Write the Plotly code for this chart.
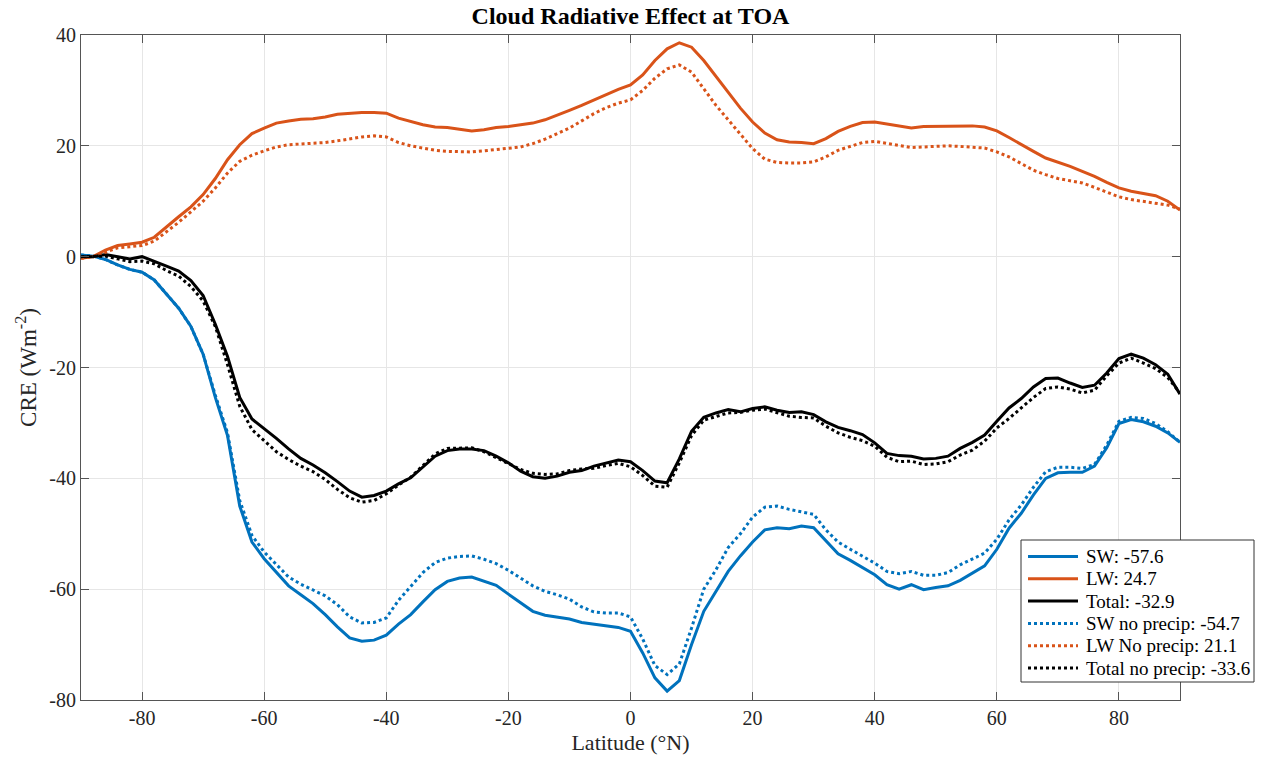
import plotly.graph_objects as go

lat = list(range(-90, 91, 2))

sw = [0.3, 0.1, -0.5, -1.5, -2.3, -2.8, -4.2, -6.8, -9.3, -12.6, -17.6, -25.4, -32.3, -45.0, -51.5,
      -54.5, -57.0, -59.4, -61.0, -62.6, -64.6, -66.8, -68.8, -69.4, -69.2, -68.3, -66.3, -64.6, -62.3,
      -60.1, -58.6, -58.0, -57.8, -58.5, -59.3, -60.9, -62.5, -64.0, -64.7, -65.0, -65.4, -66.0, -66.3,
      -66.6, -66.9, -67.6, -71.5, -76.0, -78.4, -76.5, -70.0, -64.0, -60.5, -56.8, -54.0, -51.5, -49.3,
      -48.9, -49.1, -48.6, -48.9, -51.3, -53.6, -54.8, -56.1, -57.4, -59.2, -60.0, -59.2, -60.1, -59.7,
      -59.4, -58.4, -57.1, -55.8, -52.8, -49.0, -46.3, -43.0, -40.0, -39.0, -38.9, -38.9, -37.8, -34.5,
      -30.1, -29.4, -29.8, -30.6, -31.8, -33.5]

lw = [-0.3, 0.0, 1.2, 2.0, 2.3, 2.6, 3.5, 5.4, 7.2, 9.0, 11.2, 14.1, 17.5, 20.2, 22.2, 23.2, 24.1,
      24.5, 24.8, 24.9, 25.2, 25.7, 25.9, 26.0, 26.0, 25.9, 25.0, 24.4, 23.8, 23.4, 23.3, 23.0, 22.7,
      22.9, 23.3, 23.5, 23.8, 24.1, 24.7, 25.5, 26.4, 27.3, 28.3, 29.3, 30.2, 31.0, 32.8, 35.4, 37.5,
      38.6, 37.8, 35.4, 32.5, 29.7, 26.8, 24.3, 22.3, 21.1, 20.7, 20.6, 20.4, 21.3, 22.6, 23.5, 24.2,
      24.3, 23.9, 23.5, 23.2, 23.5, 23.5, 23.6, 23.6, 23.6, 23.4, 22.7, 21.5, 20.2, 19.0, 17.8, 17.1,
      16.3, 15.4, 14.5, 13.4, 12.4, 11.8, 11.4, 11.0, 10.0, 8.4]

total = [0.0, 0.0, 0.4, 0.0, -0.4, 0.0, -0.8, -1.7, -2.6, -4.3, -7.0, -12.2, -18.0, -25.4, -29.3,
         -31.0, -32.8, -34.7, -36.4, -37.6, -39.0, -40.6, -42.3, -43.4, -43.1, -42.3, -41.0, -39.9,
         -38.0, -36.0, -35.0, -34.7, -34.7, -35.0, -36.0, -37.2, -38.7, -39.7, -40.0, -39.6, -38.9,
         -38.6, -37.8, -37.2, -36.7, -37.0, -38.6, -40.5, -40.8, -36.5, -31.5, -29.0, -28.2, -27.6,
         -28.0, -27.4, -27.1, -27.7, -28.1, -28.0, -28.5, -29.8, -30.8, -31.4, -32.1, -33.6, -35.5,
         -35.9, -36.0, -36.5, -36.4, -36.0, -34.6, -33.5, -32.2, -29.7, -27.3, -25.6, -23.5, -22.0,
         -21.9, -22.8, -23.6, -23.2, -21.0, -18.4, -17.6, -18.3, -19.5, -21.2, -24.8]

sw_np = [0.3, 0.1, -0.5, -1.5, -2.3, -2.8, -4.2, -6.8, -9.3, -12.6, -17.6, -25.0, -31.8, -44.0, -50.3,
         -53.3, -55.5, -57.8, -59.1, -60.2, -61.2, -62.8, -65.0, -66.1, -66.0, -65.2, -62.0, -59.5,
         -57.0, -55.2, -54.4, -54.1, -54.0, -54.6, -55.4, -56.6, -58.0, -59.4, -60.4, -61.0, -61.8,
         -63.2, -64.1, -64.3, -64.3, -65.0, -69.0, -73.8, -75.4, -73.5, -67.0, -60.0, -56.5, -52.5,
         -50.0, -47.0, -45.2, -45.0, -45.6, -46.0, -46.5, -49.3, -51.5, -52.8, -54.0, -55.3, -56.8,
         -57.2, -56.8, -57.5, -57.5, -57.0, -55.6, -54.5, -53.5, -51.0, -47.5, -44.8, -41.6, -38.8,
         -38.0, -38.0, -38.2, -37.5, -34.0, -29.7, -29.0, -29.2, -30.1, -31.6, -33.5]

lw_np = [-0.3, 0.0, 0.8, 1.6, 1.8, 2.0, 2.8, 4.5, 6.2, 8.1, 10.0, 12.4, 15.1, 17.2, 18.3, 19.1, 19.8,
         20.2, 20.3, 20.4, 20.6, 20.9, 21.3, 21.6, 21.8, 21.6, 20.6, 20.0, 19.6, 19.2, 19.0, 19.0, 18.9,
         19.1, 19.3, 19.5, 19.8, 20.4, 21.2, 22.2, 23.2, 24.5, 25.8, 26.9, 27.7, 28.3, 30.0, 32.2, 33.9,
         34.6, 33.3, 30.3, 27.3, 24.7, 22.2, 19.5, 17.6, 17.0, 16.9, 16.9, 17.1, 18.0, 19.2, 19.9, 20.6,
         20.8, 20.4, 20.0, 19.7, 19.8, 19.9, 20.0, 19.9, 19.8, 19.6, 18.9, 18.0, 16.8, 15.6, 14.8, 14.1,
         13.7, 13.3, 12.5, 11.7, 10.8, 10.3, 10.0, 9.6, 9.3, 8.6]

total_np = [0.0, 0.0, 0.1, -0.4, -0.9, -0.8, -1.3, -2.5, -3.5, -5.4, -8.0, -12.6, -19.5, -27.0, -31.2,
            -33.2, -35.2, -36.6, -37.8, -38.8, -40.2, -42.0, -43.5, -44.3, -44.0, -42.8, -41.2, -39.8,
            -37.7, -35.6, -34.6, -34.5, -34.5, -35.2, -36.3, -37.4, -38.4, -39.1, -39.3, -39.2, -38.6,
            -38.3, -38.2, -37.7, -37.3, -37.9, -39.5, -41.4, -41.6, -37.2, -32.3, -29.5, -28.9, -28.2,
            -28.1, -27.7, -27.5, -28.2, -28.8, -29.0, -29.1, -30.6, -31.8, -32.6, -33.2, -34.2, -36.2,
            -37.0, -36.9, -37.5, -37.4, -37.0, -35.8, -34.9, -33.3, -30.9, -29.2, -27.3, -25.4, -23.8,
            -23.5, -23.9, -24.6, -24.1, -21.5, -19.2, -18.3, -19.2, -20.2, -21.8, -24.6]

names = ["SW: -57.6", "LW: 24.7", "Total: -32.9",
         "SW no precip: -54.7", "LW No precip: 21.1", "Total no precip: -33.6"]
values = [sw, lw, total, sw_np, lw_np, total_np]
colors = ["#0072BD", "#D95319", "#000000", "#0072BD", "#D95319", "#000000"]
dashes = ["solid", "solid", "solid", "dot", "dot", "dot"]

xticks = [-80, -60, -40, -20, 0, 20, 40, 60, 80]
yticks = [-80, -60, -40, -20, 0, 20, 40]

font_family = "Liberation Serif, Times New Roman, serif"

fig = go.Figure()
for name, vals, color, dash in zip(names, values, colors, dashes):
    fig.add_trace(go.Scatter(x=lat, y=vals, mode="lines", name=name, showlegend=False,
                             line=dict(color=color, width=3,
                                       dash="3px,3px" if dash == "dot" else dash)))

# plot-area geometry (pixels) used to place the legend box like the reference
W, H = 1264, 764
L, R, T, B = 81, 84, 35, 64
pw, ph = W - L - R, H - T - B


def px_x(p):
    return (p - L) / pw


def px_y(p):
    return (H - B - p) / ph


shapes = [dict(type="rect", xref="paper", yref="paper",
               x0=px_x(1021), x1=px_x(1254), y0=px_y(682), y1=px_y(540),
               line=dict(color="#333333", width=1), fillcolor="white", layer="above")]
annotations = []
row0, row_step = 556.5, 22.3
for i, (name, color, dash) in enumerate(zip(names, colors, dashes)):
    yy = px_y(row0 + i * row_step)
    shapes.append(dict(type="line", xref="paper", yref="paper",
                       x0=px_x(1028), x1=px_x(1078), y0=yy, y1=yy, layer="above",
                       line=dict(color=color, width=3, dash=dash)))
    annotations.append(dict(text=name, xref="paper", yref="paper", x=px_x(1084), y=yy,
                            xanchor="left", yanchor="middle", showarrow=False,
                            font=dict(family=font_family, size=19, color="#000000")))

axis_common = dict(showline=True, linecolor="#555555", linewidth=1, mirror="ticks",
                   ticks="inside", ticklen=8, tickcolor="#555555",
                   showgrid=True, gridcolor="#e6e6e6", gridwidth=1, zeroline=False,
                   tickfont=dict(family=font_family, size=20, color="#262626"))

fig.update_layout(
    width=W, height=H,
    margin=dict(l=L, r=R, t=T, b=B),
    paper_bgcolor="white", plot_bgcolor="white",
    title=dict(text="<b>Cloud Radiative Effect at TOA</b>", x=0.5, xanchor="center",
               y=0.99, yanchor="top", xref="paper",
               font=dict(family=font_family, size=24, color="#000000")),
    xaxis=dict(range=[-90, 90], tickvals=xticks, ticktext=[str(v) for v in xticks],
               title=dict(text="Latitude (°N)", font=dict(family=font_family, size=22, color="#262626"),
                          standoff=6),
               **axis_common),
    yaxis=dict(range=[-80, 40], tickvals=yticks, ticktext=[str(v) for v in yticks],
               title=dict(text="CRE (Wm<sup>-2</sup>)", font=dict(family=font_family, size=23, color="#262626"),
                          standoff=6),
               **axis_common),
    shapes=shapes,
    annotations=annotations,
    showlegend=False,
)

fig.write_html("out.html")
